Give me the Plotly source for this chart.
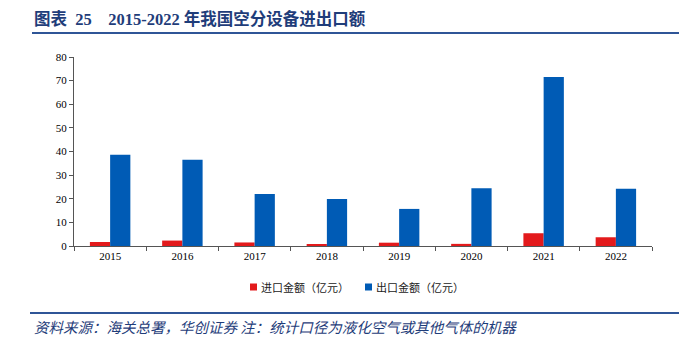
import plotly.graph_objects as go

years = ["2015", "2016", "2017", "2018", "2019", "2020", "2021", "2022"]
imports = [1.7, 2.3, 1.5, 0.8, 1.4, 0.9, 5.4, 3.7]
exports = [38.6, 36.5, 22.0, 19.9, 15.7, 24.4, 71.5, 24.2]
y_ticks = [0, 10, 20, 30, 40, 50, 60, 70, 80]
names = ["进口金额（亿元）", "出口金额（亿元）"]
colors = ["#e31a1c", "#005bb5"]

W, H = 679, 350
L, R, T, B = 74, 27, 57, 104
pw = W - L - R
ph = H - T - B

def px(x):
    return (x - L) / pw

def py(y):
    return (H - B - y) / ph

fig = go.Figure()
fig.add_trace(go.Bar(x=years, y=imports, name=names[0], marker_color=colors[0],
                     marker_line_width=0))
fig.add_trace(go.Bar(x=years, y=exports, name=names[1], marker_color=colors[1],
                     marker_line_width=0))

serif = "Liberation Serif, Noto Sans CJK SC, serif"
legend_font = dict(family="Noto Sans CJK SC", size=11, color="#222222")
fig.update_layout(
    width=W, height=H,
    margin=dict(l=L, r=R, t=T, b=B),
    paper_bgcolor="white", plot_bgcolor="white",
    barmode="group", bargap=0.44, bargroupgap=0,
    font=dict(family=serif, size=11, color="#000000"),
    showlegend=False,
    xaxis=dict(showline=True, linecolor="#555555", linewidth=1, ticks="outside",
               tickson="boundaries", ticklen=4, tickcolor="#555555",
               tickfont=dict(family=serif, size=11)),
    yaxis=dict(range=[0, 80], tickvals=y_ticks, showline=True, linecolor="#555555",
               linewidth=1, ticks="outside", ticklen=4, tickcolor="#555555",
               showgrid=False, zeroline=False, tickfont=dict(family=serif, size=11)),
    shapes=[
        dict(type="line", xref="paper", yref="paper", x0=px(32), x1=px(679), y0=py(33), y1=py(33),
             line=dict(color="#2f5597", width=2)),
        dict(type="line", xref="paper", yref="paper", x0=px(30), x1=px(679), y0=py(313), y1=py(313),
             line=dict(color="#2f5597", width=2)),
        dict(type="rect", xref="paper", yref="paper", x0=px(250), x1=px(257), y0=py(283.5), y1=py(290.5),
             fillcolor=colors[0], line_width=0),
        dict(type="rect", xref="paper", yref="paper", x0=px(365), x1=px(372), y0=py(283.5), y1=py(290.5),
             fillcolor=colors[1], line_width=0),
    ],
    annotations=[
        dict(text="<b>图表&nbsp;&nbsp;25&nbsp;&nbsp;&nbsp;&nbsp;2015-2022 年我国空分设备进出口额</b>",
             xref="paper", yref="paper",
             x=px(32), y=py(19), xanchor="left", yanchor="middle", showarrow=False,
             font=dict(family="Liberation Serif, Noto Sans CJK SC", size=16.5, color="#1f3d7a")),
        dict(text="<i>资料来源：海关总署，华创证券 注：统计口径为液化空气或其他气体的机器</i>",
             xref="paper", yref="paper", x=px(32), y=py(326), xanchor="left", yanchor="middle",
             showarrow=False,
             font=dict(family="Noto Sans CJK SC", size=14.5, color="#1f3d7a")),
        dict(text=names[0], xref="paper", yref="paper", x=px(259), y=py(287),
             xanchor="left", yanchor="middle", showarrow=False, font=legend_font),
        dict(text=names[1], xref="paper", yref="paper", x=px(374), y=py(287),
             xanchor="left", yanchor="middle", showarrow=False, font=legend_font),
    ],
)

fig.write_html("out.html")
